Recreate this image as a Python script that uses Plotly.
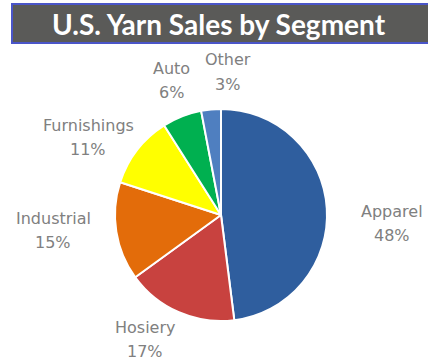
import plotly.graph_objects as go

# Yarn sales share by market segment (percent)
segments = ["Apparel", "Hosiery", "Industrial", "Furnishings", "Auto", "Other"]
shares = [48, 17, 15, 11, 6, 3]
colors = ["#2f5e9e", "#c8423f", "#e36c0a", "#ffff00", "#00b050", "#4f7fc0"]

W, H = 428, 364

# Label anchor points (pixel centres of the category name line)
label_pos = {
    "Apparel": (392, 211),
    "Hosiery": (145, 327),
    "Industrial": (53, 218),
    "Furnishings": (88, 125),
    "Auto": (171, 68),
    "Other": (228, 60),
}


def px(x):
    return x / W


def py(y):
    return 1 - y / H


fig = go.Figure()

cx, cy, r = 221, 215, 106
fig.add_trace(go.Pie(
    labels=segments,
    values=shares,
    sort=False,
    direction="clockwise",
    rotation=0,
    marker=dict(colors=colors, line=dict(color="white", width=2)),
    textinfo="none",
    hoverinfo="label+percent",
    showlegend=False,
    domain=dict(x=[px(cx - r), px(cx + r)], y=[py(cy + r), py(cy - r)]),
))

label_font = dict(family="DejaVu Sans, sans-serif", size=16, color="#808080")
annotations = []
for name, val in zip(segments, shares):
    lx, ly = label_pos[name]
    annotations.append(dict(x=px(lx), y=py(ly), xref="paper", yref="paper",
                            text=name, showarrow=False, font=label_font,
                            xanchor="center", yanchor="middle"))
    annotations.append(dict(x=px(lx), y=py(ly + 24), xref="paper", yref="paper",
                            text=f"{val}%", showarrow=False, font=label_font,
                            xanchor="center", yanchor="middle"))

# Title banner
annotations.append(dict(x=px(219), y=py(24), xref="paper", yref="paper",
                        text="<b>U.S. Yarn Sales by Segment</b>", showarrow=False,
                        font=dict(family="Lato, sans-serif", size=28, color="white"),
                        xanchor="center", yanchor="middle"))

fig.update_layout(
    width=W, height=H,
    margin=dict(l=0, r=0, t=0, b=0),
    paper_bgcolor="white",
    plot_bgcolor="white",
    shapes=[dict(type="rect", xref="paper", yref="paper",
                 x0=px(12), x1=px(440), y0=py(43), y1=py(4),
                 fillcolor="#5a5a58", line=dict(color="#4a55c8", width=2),
                 layer="below")],
    annotations=annotations,
)

fig.write_html("out.html")
